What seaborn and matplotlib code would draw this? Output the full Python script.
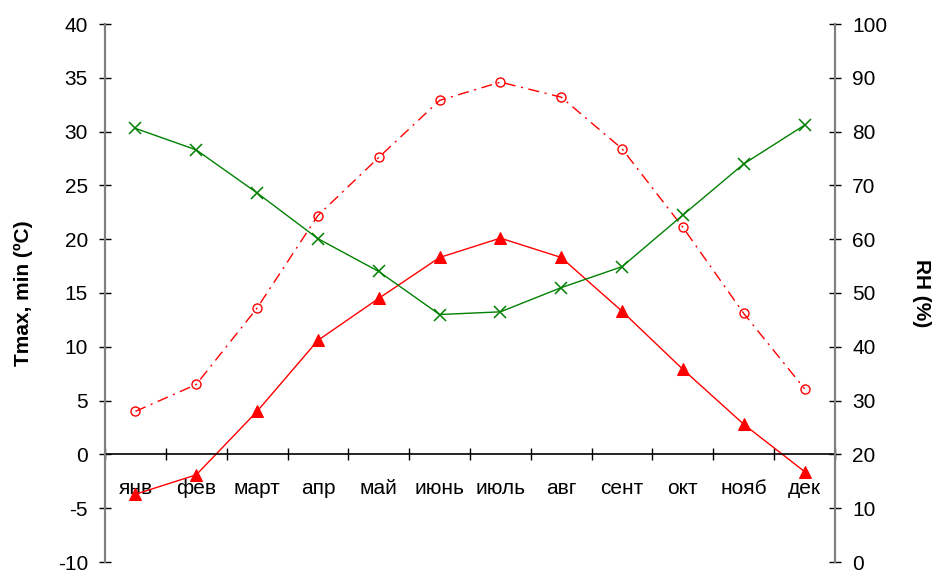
import matplotlib
matplotlib.use("Agg")
import matplotlib.pyplot as plt
import seaborn as sns
import numpy as np
import pandas as pd

months = ["янв", "фев", "март", "апр", "май", "июнь", "июль", "авг", "сент", "окт", "нояб", "дек"]
t_max = [4.0, 6.5, 13.6, 22.2, 27.6, 32.9, 34.6, 33.2, 28.4, 21.1, 13.1, 6.1]
t_min = [-3.7, -1.9, 4.0, 10.6, 14.5, 18.3, 20.1, 18.3, 13.3, 7.9, 2.8, -1.6]
rh = [80.6, 76.6, 68.6, 60.1, 54.0, 46.0, 46.5, 51.0, 54.9, 64.5, 74.0, 81.2]

sns.set_theme(style="white")
plt.rcParams["font.family"] = ["Liberation Sans", "DejaVu Sans"]
plt.rcParams["font.size"] = 15
plt.rcParams["axes.unicode_minus"] = False
plt.rcParams["text.color"] = "black"
plt.rcParams["xtick.color"] = "black"
plt.rcParams["ytick.color"] = "black"
plt.rcParams["axes.labelcolor"] = "black"

df = pd.DataFrame({"idx": np.arange(len(months)), "month": months,
                   "tmax": t_max, "tmin": t_min, "rh": rh})

fig = plt.figure(figsize=(9.36, 5.72), dpi=100)
ax = fig.add_axes([105 / 936, 1 - 562 / 572, (835 - 105) / 936, (562 - 24) / 572])
ax2 = ax.twinx()

red = "#FF0000"
green = "#008000"

sns.lineplot(data=df, x="idx", y="tmax", ax=ax, color=red, lw=1.0,
             linestyle=(0, (8, 4, 1.5, 4)), marker="o", markersize=6.5,
             markerfacecolor="none", markeredgecolor=red, markeredgewidth=1.0)
sns.lineplot(data=df, x="idx", y="tmin", ax=ax, color=red, lw=1.0,
             marker="^", markersize=8, markerfacecolor=red, markeredgecolor=red)
sns.lineplot(data=df, x="idx", y="rh", ax=ax2, color=green, lw=1.0,
             marker="x", markersize=8, markeredgewidth=1.1, markeredgecolor=green)

ax.set_xlim(-0.5, len(months) - 0.5)
ax.set_ylim(-10, 40)
ax.set_yticks(np.arange(-10, 41, 5))
ax2.set_ylim(0, 100)
ax2.set_yticks(np.arange(0, 101, 10))

# category axis crossing at zero
ax.spines["bottom"].set_position(("data", 0))
ax.spines["bottom"].set_color("black")
ax.spines["bottom"].set_linewidth(1.2)
ax.set_xticks(np.arange(len(months)))
ax.set_xticklabels(months)
ax.set_xticks(np.arange(-0.5, len(months) + 0.5, 1), minor=True)
ax.tick_params(axis="x", which="major", length=0, pad=18, labelsize=15)
ax.tick_params(axis="x", which="minor", direction="inout", length=8.5, width=1.0,
               color="black", bottom=True)

for a in (ax, ax2):
    a.spines["top"].set_visible(False)
    a.set_xlabel("")
for side in ("left", "right"):
    ax2.spines[side].set_color("#808080")
    ax2.spines[side].set_linewidth(1.5)
    ax.spines[side].set_color("#808080")
    ax.spines[side].set_linewidth(1.5)
ax2.spines["bottom"].set_visible(False)

ax.tick_params(axis="y", direction="inout", length=8.5, width=1.0, color="black",
               left=True, pad=8, labelsize=15)
ax2.tick_params(axis="y", direction="inout", length=8.5, width=1.0, color="black",
                right=True, pad=8, labelsize=15)

ax.set_ylabel("Tmax, min (ºC)", fontweight="bold", fontsize=15, labelpad=18)
ax2.set_ylabel("RH (%)", fontweight="bold", fontsize=15, rotation=270,
               va="bottom", labelpad=18)

fig.savefig("out.png", dpi=100, facecolor="white")
